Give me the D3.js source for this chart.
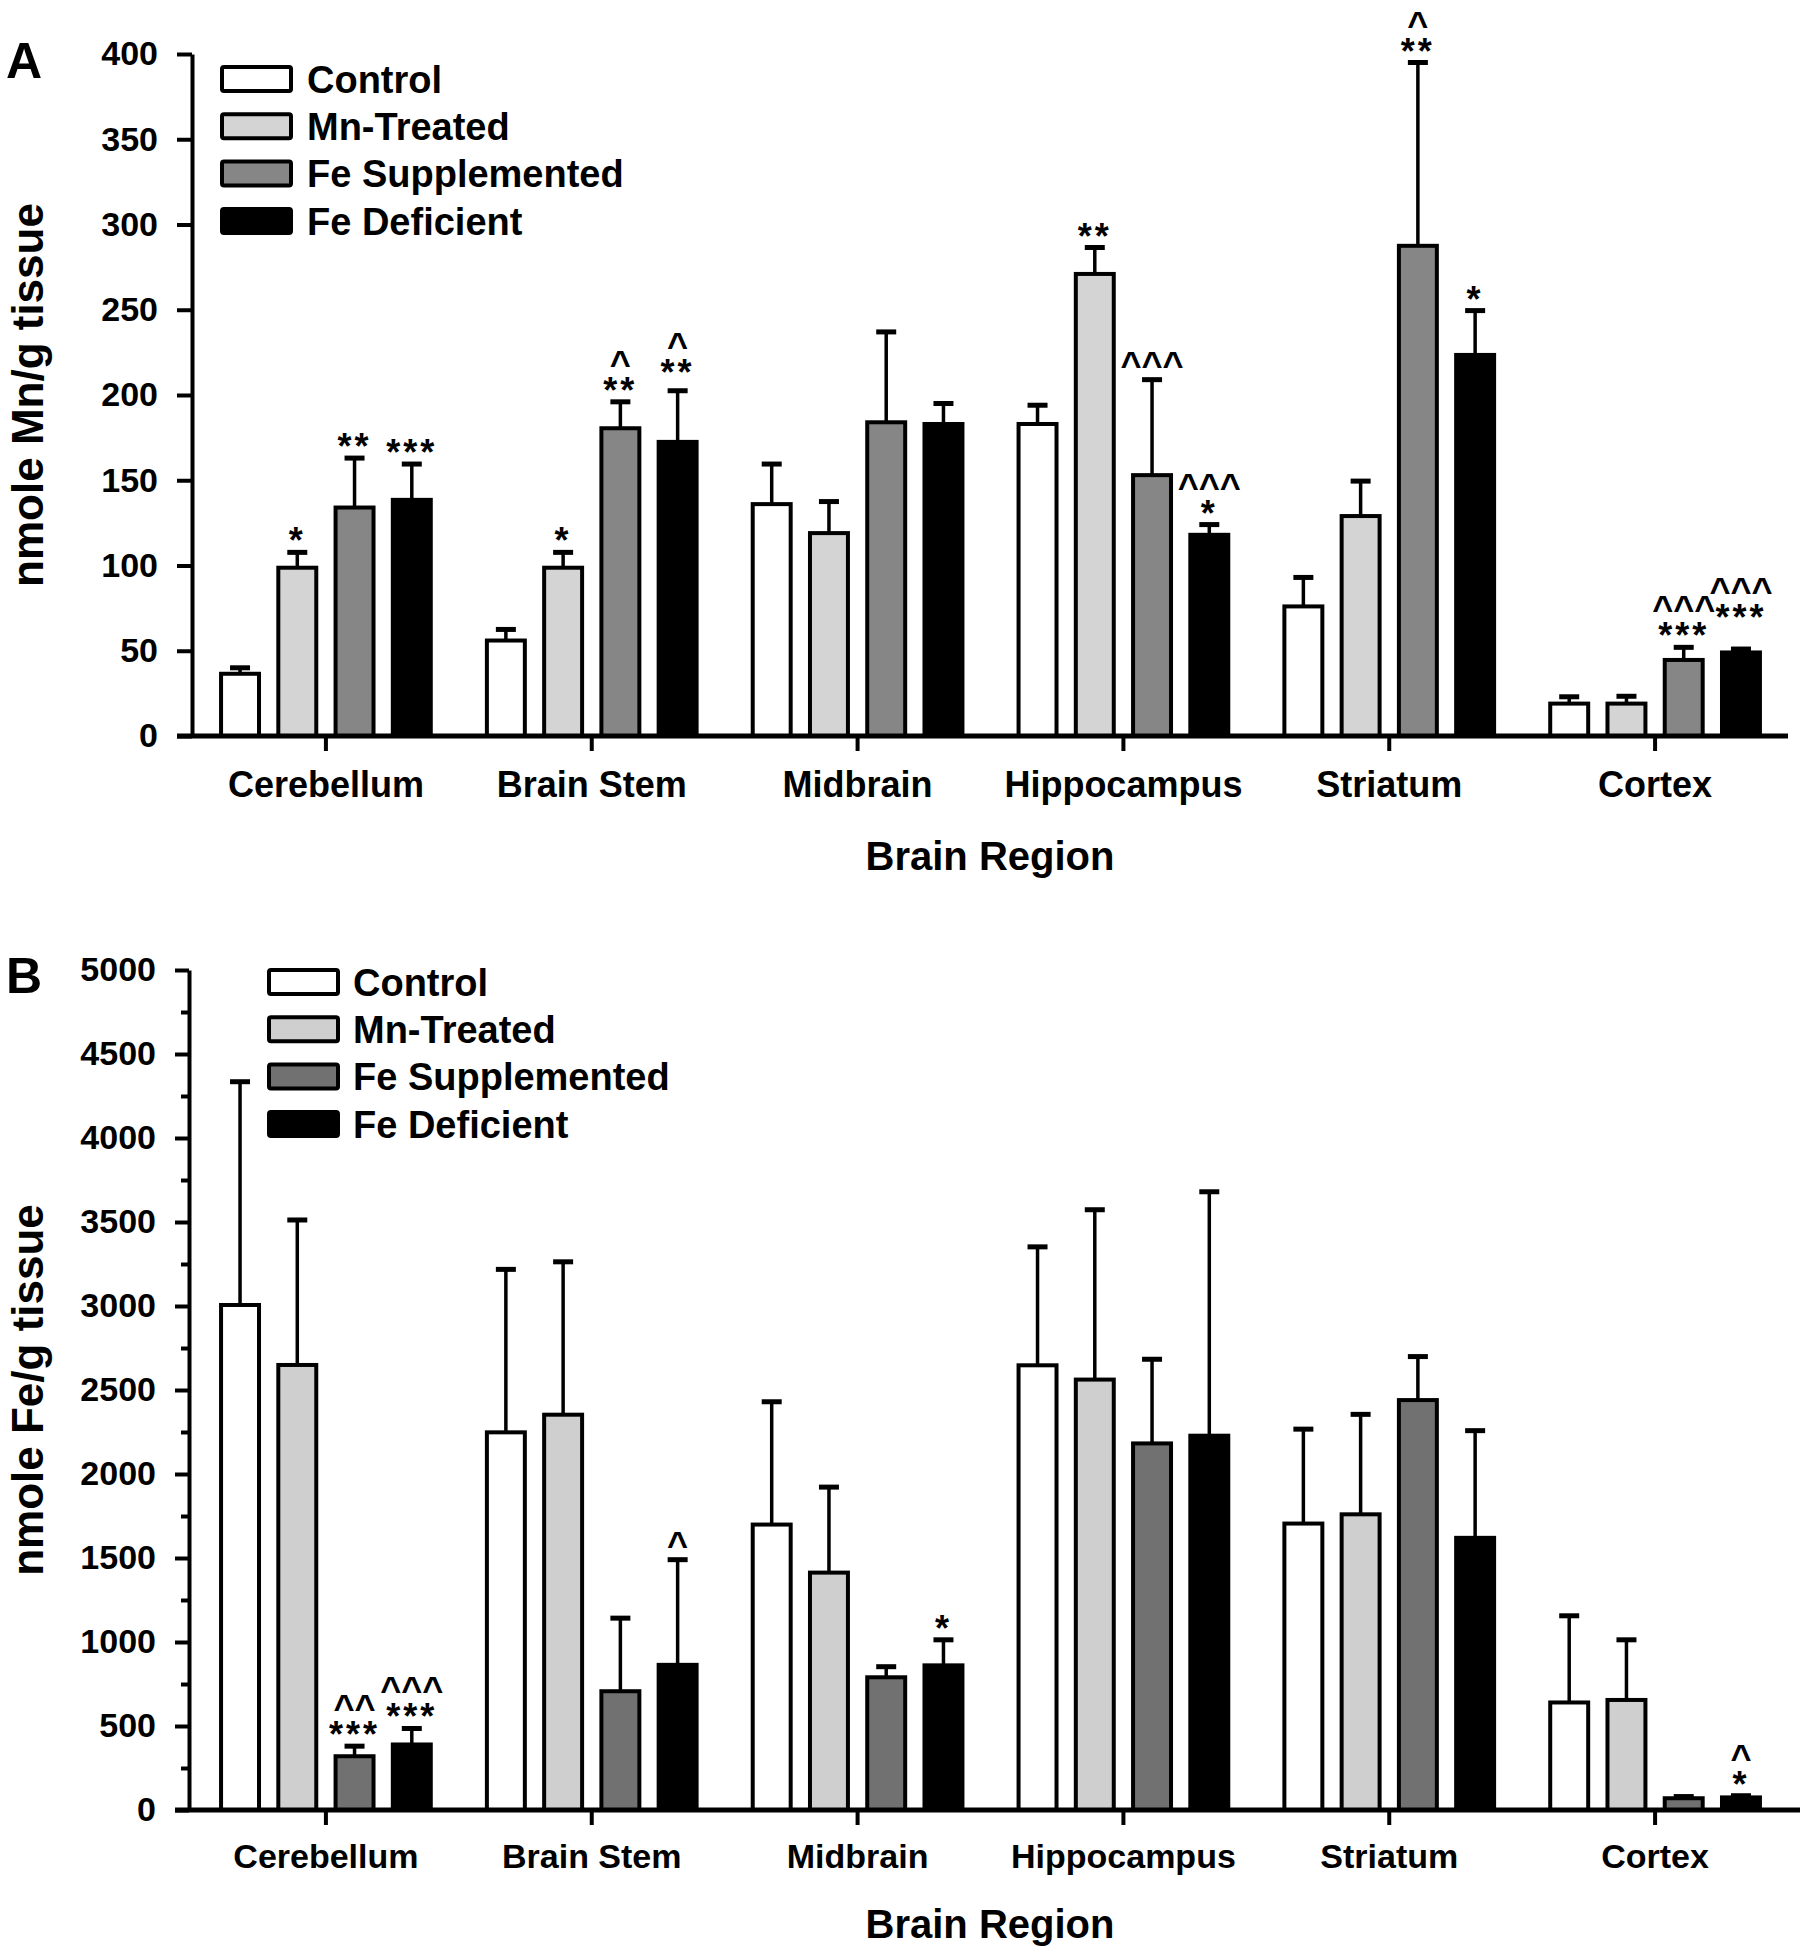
<!DOCTYPE html>
<html>
<head>
<meta charset="utf-8">
<script src="https://cdn.jsdelivr.net/npm/d3@7"></script>
<style>
  body { margin: 0; background: #fff; }
  svg { display: block; }
</style>
</head>
<body>
<svg id="chart" width="1804" height="1950"></svg>
<script>
const FONT = '"Liberation Sans", Arial, sans-serif';

const regions = ["Cerebellum", "Brain Stem", "Midbrain", "Hippocampus", "Striatum", "Cortex"];
const groups = ["Control", "Mn-Treated", "Fe Supplemented", "Fe Deficient"];

// panel A: nmole Mn/g tissue, mean and SEM per region
const mnControl = [36.5, 56, 136, 183, 76, 19];
const mnTreated = [98.7, 98.7, 119, 271, 129, 19];
const mnFeSupp = [134, 180.5, 184, 153, 287.5, 44.6];
const mnFeDef = [138.5, 172.5, 183, 118, 223.5, 49];
const mnControlSem = [3.5, 6.5, 23.5, 11, 17, 4];
const mnTreatedSem = [9, 9, 18.5, 15.5, 20.5, 4.3];
const mnFeSuppSem = [29, 15.5, 53, 56, 107.5, 7.4];
const mnFeDefSem = [21, 30, 12, 6, 26, 2];

// panel B: nmole Fe/g tissue
const feControl = [3006, 2248, 1699, 2647, 1705, 640];
const feTreated = [2649, 2353, 1413, 2562, 1760, 655];
const feFeSupp = [320, 707, 790, 2182, 2440, 70];
const feFeDef = [390, 864, 861, 2228, 1620, 75];
const feControlSem = [1329, 970, 731, 705, 562, 516];
const feTreatedSem = [863, 910, 509, 1011, 595, 358];
const feFeSuppSem = [60, 435, 63, 501, 259, 10];
const feFeDefSem = [95, 626, 152, 1452, 638, 10];

// significance marks, [region][group]
const starsA = [["", "*", "**", "***"], ["", "*", "**", "**"], ["", "", "", ""],
                ["", "**", "", "*"], ["", "", "**", "*"], ["", "", "***", "***"]];
const caretsA = [["", "", "", ""], ["", "", "^", "^"], ["", "", "", ""],
                 ["", "", "^^^", "^^^"], ["", "", "^", ""], ["", "", "^^^", "^^^"]];
const starsB = [["", "", "***", "***"], ["", "", "", ""], ["", "", "", "*"],
                ["", "", "", ""], ["", "", "", ""], ["", "", "", "*"]];
const caretsB = [["", "", "^^", "^^^"], ["", "", "", "^"], ["", "", "", ""],
                 ["", "", "", ""], ["", "", "", ""], ["", "", "", "^"]];

const svg = d3.select("#chart").attr("font-family", FONT);

drawPanel({
    letter: "A", letterY: 78,
    means: [mnControl, mnTreated, mnFeSupp, mnFeDef],
    sems: [mnControlSem, mnTreatedSem, mnFeSuppSem, mnFeDefSem],
    stars: starsA, carets: caretsA,
    fills: ["#ffffff", "#d4d4d4", "#868686", "#000000"],
    yMax: 400, yStep: 50, minor: false,
    y0: 736, yTop: 54, axisX: 192, tick: 15, extend: 0,
    catFont: 36, catPad: 20,
    yTitle: "nmole Mn/g tissue", yTitleY: 395,
    xTitleY: 870,
    legX: 222, legTextX: 307, legY: 79
});

drawPanel({
    letter: "B", letterY: 993,
    means: [feControl, feTreated, feFeSupp, feFeDef],
    sems: [feControlSem, feTreatedSem, feFeSuppSem, feFeDefSem],
    stars: starsB, carets: caretsB,
    fills: ["#ffffff", "#cfcfcf", "#717171", "#000000"],
    yMax: 5000, yStep: 500, minor: true,
    y0: 1810, yTop: 970, axisX: 189, tick: 14, extend: 12,
    catFont: 34, catPad: 19,
    yTitle: "nmole Fe/g tissue", yTitleY: 1390,
    xTitleY: 1938,
    legX: 269, legTextX: 353, legY: 982
});

function drawPanel(p) {
    const g = svg.append("g");

    const x0 = d3.scaleBand().domain(regions).range([193, 1788]);
    const x1 = d3.scaleBand().domain(groups).range([0, x0.bandwidth()])
        .paddingInner(0.337).paddingOuter(0.49);
    const y = d3.scaleLinear().domain([0, p.yMax]).range([p.y0, p.yTop]);

    const rows = [];
    regions.forEach((r, i) => groups.forEach((s, j) => {
        rows.push({r: r, s: s, i: i, j: j, v: p.means[j][i], e: p.sems[j][i]});
    }));
    const cx = d => x0(d.r) + x1(d.s) + x1.bandwidth() / 2;

    // bars
    g.append("g").selectAll("rect").data(rows).enter().append("rect")
        .attr("x", d => x0(d.r) + x1(d.s))
        .attr("y", d => y(d.v))
        .attr("width", x1.bandwidth())
        .attr("height", d => p.y0 - y(d.v))
        .attr("fill", d => p.fills[d.j])
        .attr("stroke", "#000")
        .attr("stroke-width", 4);

    // error bars (upper only)
    const err = g.append("g").attr("stroke", "#000");
    err.selectAll("line.stem").data(rows).enter().append("line")
        .attr("class", "stem")
        .attr("x1", cx).attr("x2", cx)
        .attr("y1", d => y(d.v)).attr("y2", d => y(d.v + d.e))
        .attr("stroke-width", 3.5);
    err.selectAll("line.cap").data(rows).enter().append("line")
        .attr("class", "cap")
        .attr("x1", d => cx(d) - 10).attr("x2", d => cx(d) + 10)
        .attr("y1", d => y(d.v + d.e)).attr("y2", d => y(d.v + d.e))
        .attr("stroke-width", 5);

    // y axis
    const yAxis = d3.axisLeft(y)
        .tickValues(d3.range(0, p.yMax + 1, p.yStep))
        .tickFormat(d3.format("d"))
        .tickSize(p.tick).tickSizeOuter(0).tickPadding(19);
    const yg = g.append("g").attr("transform", "translate(" + p.axisX + ",0)").call(yAxis);
    yg.attr("font-family", FONT).attr("font-size", 34).attr("font-weight", "bold");
    yg.select(".domain").attr("stroke-width", 4);
    yg.selectAll(".tick line").attr("stroke-width", 4);
    yg.selectAll(".tick text").attr("fill", "#000");

    if (p.minor) {
        const minorAxis = d3.axisLeft(y)
            .tickValues(d3.range(p.yStep / 2, p.yMax, p.yStep))
            .tickSize(8).tickSizeOuter(0).tickFormat("");
        const mg = g.append("g").attr("transform", "translate(" + p.axisX + ",0)").call(minorAxis);
        mg.select(".domain").remove();
        mg.selectAll(".tick line").attr("stroke-width", 4);
    }

    // x axis
    const xAxis = d3.axisBottom(x0).tickSize(15).tickSizeOuter(0).tickPadding(p.catPad);
    const xg = g.append("g").attr("transform", "translate(0," + p.y0 + ")").call(xAxis);
    xg.attr("font-family", FONT).attr("font-size", p.catFont).attr("font-weight", "bold");
    xg.select(".domain").remove();
    xg.selectAll(".tick line").attr("stroke-width", 4);
    xg.selectAll(".tick text").attr("fill", "#000");
    xg.append("line")
        .attr("x1", p.axisX - p.tick).attr("x2", x0.range()[1] + p.extend)
        .attr("stroke", "#000").attr("stroke-width", 5);

    // significance marks: stars on the first line, carets stacked above
    const ann = g.append("g").attr("font-size", 36).attr("font-weight", "bold")
        .attr("text-anchor", "middle");
    regions.forEach((r, i) => {
        let prev = null;
        groups.forEach((s, j) => {
            const lines = [p.stars[i][j], p.carets[i][j]].filter(t => t);
            if (!lines.length) { prev = null; return; }
            const d = rows[i * groups.length + j];
            let base = y(d.v + d.e) + (lines[0].startsWith("*") ? 1 : -3);
            if (prev && prev.n === 2 && lines.length === 2) base = Math.min(base, prev.base - 18);
            const t = ann.append("text").attr("x", cx(d)).attr("y", base);
            lines.forEach((line, k) => {
                t.append("tspan")
                    .attr("x", cx(d))
                    .attr("dy", k === 0 ? 0 : -27)
                    .attr("letter-spacing", line.startsWith("*") ? 3 : 0)
                    .text(line);
            });
            prev = {n: lines.length, base: base};
        });
    });

    // legend
    const leg = g.append("g");
    groups.forEach((s, j) => {
        const cy = p.legY + j * 47.3;
        leg.append("rect")
            .attr("x", p.legX).attr("y", cy - 12)
            .attr("width", 69).attr("height", 24).attr("rx", 2)
            .attr("fill", p.fills[j]).attr("stroke", "#000").attr("stroke-width", 4);
        leg.append("text")
            .attr("x", p.legTextX).attr("y", cy).attr("dy", "0.36em")
            .attr("font-size", 38).attr("font-weight", "bold")
            .text(s);
    });

    // titles
    g.append("text")
        .attr("transform", "translate(43," + p.yTitleY + ") rotate(-90)")
        .attr("text-anchor", "middle")
        .attr("font-size", 44).attr("font-weight", "bold")
        .text(p.yTitle);
    g.append("text")
        .attr("x", 990).attr("y", p.xTitleY)
        .attr("text-anchor", "middle")
        .attr("font-size", 40).attr("font-weight", "bold")
        .text("Brain Region");
    g.append("text")
        .attr("x", 6).attr("y", p.letterY)
        .attr("font-size", 50).attr("font-weight", "bold")
        .text(p.letter);
}
</script>
</body>
</html>
